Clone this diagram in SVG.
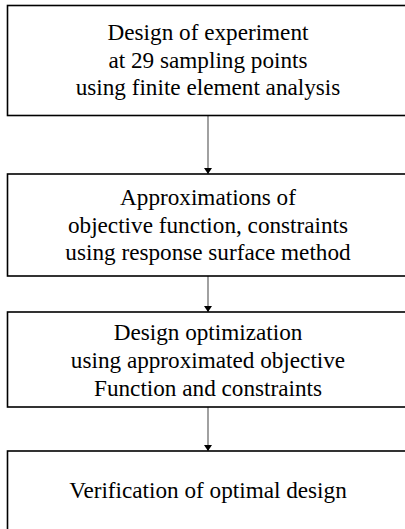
<svg xmlns="http://www.w3.org/2000/svg" width="405" height="529" viewBox="0 0 405 529">
  <style>
    .box { fill: #ffffff; stroke: #000000; stroke-width: 1.6; }
    .label { font-family: "Liberation Serif", "Times New Roman", serif; font-size: 23.2px; fill: #000000; text-anchor: middle; }
    .conn { stroke: #6e6e6e; stroke-width: 1.3; fill: none; marker-end: url(#head); }
  </style>
  <defs>
    <marker id="head" viewBox="0 0 6 8" refX="6" refY="4" markerWidth="6" markerHeight="8" markerUnits="userSpaceOnUse" orient="auto">
      <path d="M0,0 L6,4 L0,8 Z" fill="#000000"/>
    </marker>
  </defs>
  <rect width="405" height="529" fill="#ffffff"/>

  <g id="connectors">
    <line class="conn" x1="208" y1="115" x2="208" y2="174"/>
    <line class="conn" x1="208" y1="276" x2="208" y2="312"/>
    <line class="conn" x1="208" y1="407" x2="208" y2="451"/>
  </g>

  <g id="doe">
    <rect class="box" x="7.5" y="5.5" width="405" height="110"/>
    <text class="label" x="208" y="40">Design of experiment</text>
    <text class="label" x="208" y="67.5">at 29 sampling points</text>
    <text class="label" x="208" y="95">using finite element analysis</text>
  </g>

  <g id="rsm">
    <rect class="box" x="7.5" y="174" width="405" height="102"/>
    <text class="label" x="208" y="205">Approximations of</text>
    <text class="label" x="208" y="232.5">objective function, constraints</text>
    <text class="label" x="208" y="260">using response surface method</text>
  </g>

  <g id="optimization">
    <rect class="box" x="7.5" y="312" width="405" height="95"/>
    <text class="label" x="208" y="340">Design optimization</text>
    <text class="label" x="208" y="368">using approximated objective</text>
    <text class="label" x="208" y="396">Function and constraints</text>
  </g>

  <g id="verification">
    <rect class="box" x="7.5" y="451" width="405" height="100"/>
    <text class="label" x="208" y="498">Verification of optimal design</text>
  </g>
</svg>
